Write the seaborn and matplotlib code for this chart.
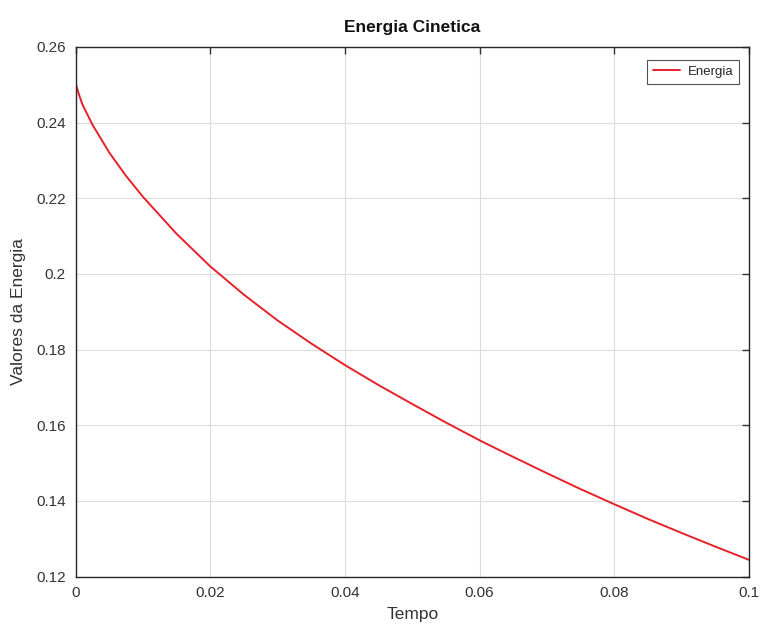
import matplotlib
matplotlib.use("Agg")
import matplotlib.pyplot as plt
import seaborn as sns
import pandas as pd

tempo = [0.0, 0.0005, 0.001, 0.0025, 0.005, 0.0075, 0.01, 0.015, 0.02, 0.025, 0.03,
         0.035, 0.04, 0.045, 0.05, 0.055, 0.06, 0.065, 0.07, 0.075, 0.08, 0.085,
         0.09, 0.095, 0.1]
energia = [0.2504, 0.2475, 0.2449, 0.2395, 0.2321, 0.2259, 0.2204, 0.2106, 0.2020,
           0.1945, 0.1877, 0.1816, 0.1759, 0.1706, 0.1656, 0.1607, 0.1560, 0.1516,
           0.1473, 0.1431, 0.1391, 0.1352, 0.1315, 0.1279, 0.1244]
xticks = [0, 0.02, 0.04, 0.06, 0.08, 0.1]
xtick_labels = ["0", "0.02", "0.04", "0.06", "0.08", "0.1"]
yticks = [0.12, 0.14, 0.16, 0.18, 0.2, 0.22, 0.24, 0.26]
ytick_labels = ["0.12", "0.14", "0.16", "0.18", "0.2", "0.22", "0.24", "0.26"]

sns.set_style("white")
plt.rcParams["font.family"] = ["Liberation Sans", "DejaVu Sans"]

df = pd.DataFrame({"Tempo": tempo, "Energia": energia})

fig = plt.figure(figsize=(7.62, 6.26), dpi=100)
ax = fig.add_axes([0.0991, 0.079, 0.884, 0.846])
sns.lineplot(data=df, x="Tempo", y="Energia", ax=ax, color="#e8202a",
             linewidth=1.4, label="Energia")

ax.set_xlim(0, 0.1)
ax.set_ylim(0.12, 0.26)
ax.set_xticks(xticks)
ax.set_xticklabels(xtick_labels)
ax.set_yticks(yticks)
ax.set_yticklabels(ytick_labels)
ax.grid(True, color="#dcdcdc", linewidth=0.8)
ax.set_axisbelow(True)
ax.tick_params(direction="in", length=5, width=1, colors="#333333",
               labelsize=11, top=True, right=True, pad=7)
for s in ax.spines.values():
    s.set_color("#262626")
    s.set_linewidth(1.0)

ax.set_xlabel("Tempo", fontsize=12.5, color="#333333", labelpad=5)
ax.set_ylabel("Valores da Energia", fontsize=12.5, color="#333333", labelpad=7)
ax.set_title("Energia Cinetica", fontsize=12.5, fontweight="bold", color="#111111", pad=11)

leg = ax.legend(loc="upper right", bbox_to_anchor=(1 - 10 / 674, 1 - 13 / 530),
                fontsize=9.5, frameon=True, fancybox=False,
                edgecolor="#262626", handlelength=2.0, borderaxespad=0.0,
                borderpad=0.45, handletextpad=0.6)
leg.get_frame().set_linewidth(0.8)

fig.savefig("out.png", dpi=100)
